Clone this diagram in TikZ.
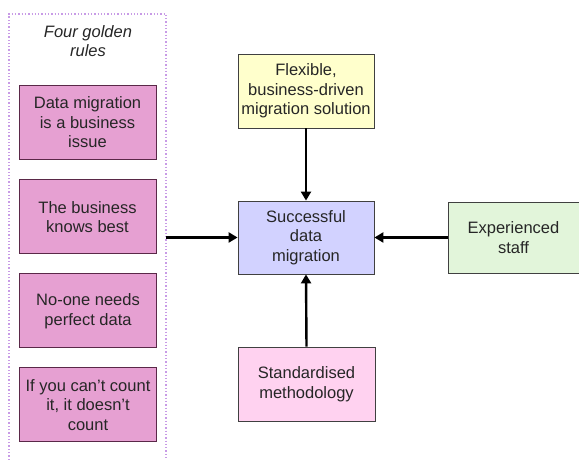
\documentclass[tikz,border=0pt]{standalone}
\usepackage{fontspec}
\setmainfont{Liberation Sans}
\usetikzlibrary{arrows.meta}
\definecolor{rulefill}{HTML}{E6A0D2}
\definecolor{ruleedge}{HTML}{5A2848}
\definecolor{framec}{HTML}{C89BE6}
\definecolor{yelfill}{HTML}{FFFFCC}
\definecolor{lavfill}{HTML}{D2D2FF}
\definecolor{pinkfill}{HTML}{FFD2F0}
\definecolor{grnfill}{HTML}{E2F5DA}
\definecolor{edgec}{HTML}{404040}
\tikzset{
  txt/.style={font=\fontsize{16.5}{19.5}\selectfont, align=center, text=black!85},
  rulebox/.style={txt, draw=ruleedge, line width=1pt, fill=rulefill, minimum width=137pt, minimum height=74pt, inner sep=0pt},
  mainbox/.style={txt, draw=edgec, line width=0.8pt, minimum width=136pt, minimum height=74pt, inner sep=0pt},
  arr/.style={line width=2.4pt, -{Triangle[length=9pt,width=10pt]}}
}
\begin{document}
\begin{tikzpicture}[x=1pt,y=1pt]
\useasboundingbox (0,0) rectangle (579,460);
\fill[white] (0,0) rectangle (579,460);
% dotted frame
\draw[framec, line width=1.3pt, dotted] (9,0) -- (9,446) -- (166,446) -- (166,0);
\node[txt, font=\fontsize{16.5}{19.5}\selectfont\itshape] (title) at (88,419) {Four golden\\rules};
\node[rulebox] (r1) at (87.5,337.5) {Data migration\\is a business\\issue};
\node[rulebox] (r2) at (87.5,243) {The business\\knows best};
\node[rulebox] (r3) at (88,149) {No-one needs\\perfect data};
\node[rulebox] (r4) at (88,55) {If you can't count\\it, it doesn't\\count};
\node[mainbox, fill=yelfill] (flex) at (306,369) {Flexible,\\business-driven\\migration solution};
\node[mainbox, fill=lavfill, minimum height=73pt] (succ) at (306,222.5) {Successful\\data\\migration};
\node[mainbox, fill=pinkfill, minimum width=137pt] (std) at (306.5,76) {Standardised\\methodology};
\node[mainbox, fill=grnfill, minimum width=131pt, minimum height=71pt] (exp) at (513.5,222.5) {Experienced\\staff};
\coordinate (fr) at (166,222.5);
\draw[arr] (fr) -- (succ.west);
\draw[arr] (flex.south) -- (succ.north);
\draw[arr] (std.north) -- (succ.south);
\draw[arr] (exp.west) -- (succ.east);
\end{tikzpicture}
\end{document}
